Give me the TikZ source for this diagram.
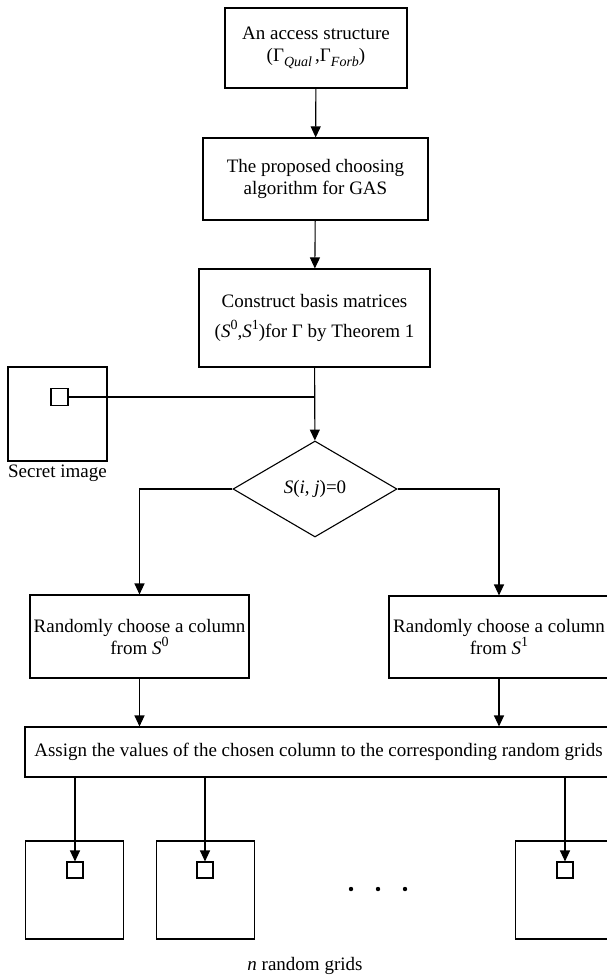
\documentclass[tikz,border=0pt]{standalone}
\usepackage{fontspec}
\setmainfont{Liberation Serif}
\usetikzlibrary{arrows.meta,shapes.geometric,calc,positioning}
\newcommand{\upidx}[1]{\raisebox{0.42em}{\fontsize{14}{14}\selectfont #1}}
\newcommand{\lowidx}[1]{\raisebox{-0.3em}{\fontsize{14}{14}\selectfont\itshape #1}}

\begin{document}
\begin{tikzpicture}[x=1pt,y=-1pt,
    every node/.style={font=\fontsize{19}{22}\selectfont},
    stepbox/.style={draw,line width=1.1pt,align=center,inner sep=2pt},
    decision/.style={draw,line width=1.1pt,diamond,inner sep=0pt,minimum width=164pt,minimum height=96pt},
    gridbox/.style={draw,line width=1.1pt,minimum width=98pt,minimum height=98pt,inner sep=0pt},
    pixel/.style={draw,line width=1.1pt,minimum width=16pt,minimum height=16pt,inner sep=0pt},
    flow/.style={line width=1.1pt,-{Triangle[length=11pt,width=10pt]}},
    link/.style={line width=1.1pt}
  ]
    \useasboundingbox (0,0) rectangle (607,977);

    % Main chain
    \node[stepbox,minimum width=182pt,minimum height=80pt] (access) at (316,48) {An access structure\\(Γ\lowidx{Qual}\,,Γ\lowidx{Forb})};
    \node[stepbox,minimum width=225pt,minimum height=82pt] (choose) at (315.5,179) {The proposed choosing\\algorithm for GAS};
    \node[stepbox,minimum width=231pt,minimum height=98pt] (basis) at (314.5,318) {Construct basis matrices\\[8pt](\textit{S}\upidx{0},\textit{S}\upidx{1})for Γ by Theorem 1};
    \node[decision] (dec) at (315,489) {\textit{S}(\textit{i}, \textit{j})=0};

    % Secret image
    \node[gridbox,minimum height=94pt,minimum width=99pt] (secret) at (57.5,414) {};
    \node[pixel,minimum width=17pt,minimum height=17pt] (spx) at (59.5,397) {};
    \node[below=3pt of secret.south,inner sep=0pt] (slabel) {Secret image};

    % Two branches
    \node[stepbox,minimum width=219pt,minimum height=83pt] (rand0) at (139.5,636.5) {Randomly choose a column\\from \textit{S}\upidx{0}};
    \node[stepbox,minimum width=220pt,minimum height=82pt] (rand1) at (499,637) {Randomly choose a column\\from \textit{S}\upidx{1}};
    \node[stepbox,minimum width=587pt,minimum height=50pt] (assign) at (318.5,752) {Assign the values of the chosen column to the corresponding random grids};

    % Random grids
    \node[gridbox] (g1) at (74.5,890) {};
    \node[gridbox] (g2) at (205.5,890) {};
    \node[gridbox] (g3) at (564.5,890) {};
    \node[pixel] (p1) at (75,870) {};
    \node[pixel] (p2) at (205,870) {};
    \node[pixel] (p3) at (565,870) {};
    \foreach \dx in {351,378,405} \fill (\dx,889) circle (2.2pt);
    \node (glabel) at (305,966) {\textit{n} random grids};

    % Connections
    \draw[flow] (access) -- (choose);
    \draw[flow] (choose) -- (basis);
    \draw[flow] (basis) -- (dec);
    \coordinate (join) at (basis.south |- spx.east);
    \draw[link] (spx.east) -- (join);
    \draw[flow] (dec.west) -| (rand0.north);
    \draw[flow] (dec.east) -| (rand1.north);
    \draw[flow] (rand0.south) -- (rand0.south |- assign.north);
    \draw[flow] (rand1.south) -- (rand1.south |- assign.north);
    \draw[flow] (p1.north |- assign.south) -- (p1.north);
    \draw[flow] (p2.north |- assign.south) -- (p2.north);
    \draw[flow] (p3.north |- assign.south) -- (p3.north);
  \end{tikzpicture}
\end{document}
